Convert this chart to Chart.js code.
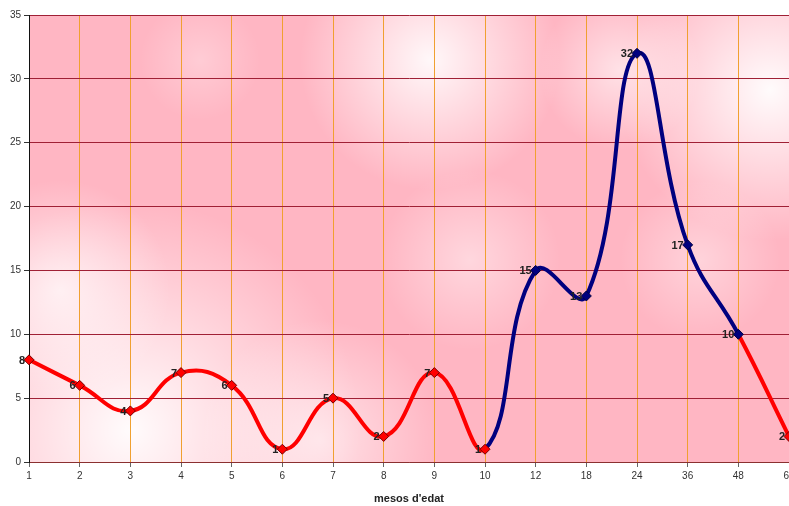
<!DOCTYPE html>
<html><head><meta charset="utf-8">
<script src="https://cdn.jsdelivr.net/npm/chart.js@4/dist/chart.umd.min.js"></script>
<style>html,body{margin:0;padding:0;background:#fff}#c{display:block}</style>
</head><body>
<canvas id="c" width="789" height="506"></canvas>
<script>
const categories = ['1','2','3','4','5','6','7','8','9','10','12','18','24','36','48','60'];
const values = [8,6,4,7,6,1,5,2,7,1,15,13,32,17,10,2];
const blueFrom = 9, blueTo = 14; // segment indices drawn in navy
const RED = '#ff0000', NAVY = '#00007f';
const ptColors = values.map((v,i)=> (i>blueFrom && i<=blueTo) ? NAVY : RED);

const bgPlugin = {
  id:'bg',
  beforeDraw(chart){
    const {ctx, chartArea:a} = chart;
    ctx.save();
    ctx.beginPath(); ctx.rect(a.left,a.top,a.right-a.left,a.bottom-a.top); ctx.clip();
    ctx.fillStyle = '#ffb6c3';
    ctx.fillRect(a.left,a.top,a.right-a.left,a.bottom-a.top);
    const blobs = [
      [130,430,230,0.95],[60,290,110,0.7],[320,440,120,0.6],
      [430,60,130,0.9],[770,90,150,0.95],[620,70,80,0.6],
      [470,260,90,0.45],[700,260,80,0.4],[200,60,60,0.3]
    ];
    for(const [x,y,r,o] of blobs){
      const g = ctx.createRadialGradient(x,y,0,x,y,r);
      g.addColorStop(0,'rgba(255,255,255,'+o+')');
      g.addColorStop(1,'rgba(255,255,255,0)');
      ctx.fillStyle = g;
      ctx.fillRect(a.left,a.top,a.right-a.left,a.bottom-a.top);
    }
    ctx.restore();
  }
};

const labelPlugin = {
  id:'lbl',
  afterDatasetsDraw(chart){
    const {ctx} = chart;
    const meta = chart.getDatasetMeta(0);
    ctx.save();
    ctx.font = 'bold 11px "Liberation Sans", Arial, sans-serif';
    ctx.fillStyle = '#222';
    ctx.textAlign = 'right';
    ctx.textBaseline = 'middle';
    meta.data.forEach((p,i)=>{
      ctx.fillText(String(values[i]), p.x-4, p.y+1);
    });
    ctx.restore();
  }
};

new Chart(document.getElementById('c'), {
  type:'line',
  data:{
    labels: categories,
    datasets:[{
      data: values,
      borderWidth: 4,
      tension: 0.45,
      borderColor: RED,
      segment:{ borderColor: c => (c.p0DataIndex>=blueFrom && c.p0DataIndex<blueTo) ? NAVY : RED },
      pointStyle:'rectRot',
      pointRadius:5,
      pointBackgroundColor: ptColors,
      pointBorderColor: values.map((v,i)=> ptColors[i]===RED ? '#770000' : '#000040'),
      pointBorderWidth:1,
      clip: false
    }]
  },
  options:{
    responsive:false, animation:false,
    layout:{autoPadding:false, padding:{top:15,right:0,left:0,bottom:0}},
    plugins:{legend:{display:false}, tooltip:{enabled:false}},
    scales:{
      x:{
        offset:false,
        grid:{color:'#f0a030', lineWidth:1, tickLength:5, tickColor:'#666'},
        border:{color:'#8b3030', width:1},
        ticks:{color:'#333', font:{size:10, family:'"Liberation Sans", Arial'}, maxRotation:0, autoSkip:false, padding:3},
        title:{display:true, text:"mesos d'edat", color:'#222', font:{size:11, weight:'bold', family:'"Liberation Sans", Arial'}, padding:{top:6,bottom:0}},
        afterFit(s){ s.height = 44; s.paddingRight = 0; s.paddingLeft = 0; }
      },
      y:{
        min:0, max:35,
        ticks:{stepSize:5, color:'#333', font:{size:10, family:'"Liberation Sans", Arial'}, padding:3},
        grid:{color:'#a02035', lineWidth:1, tickLength:5, tickColor:'#333'},
        border:{color:'#111', width:1},
        afterFit(s){ s.width = 29; }
      }
    }
  },
  plugins:[bgPlugin, labelPlugin]
});
</script>
</body></html>
